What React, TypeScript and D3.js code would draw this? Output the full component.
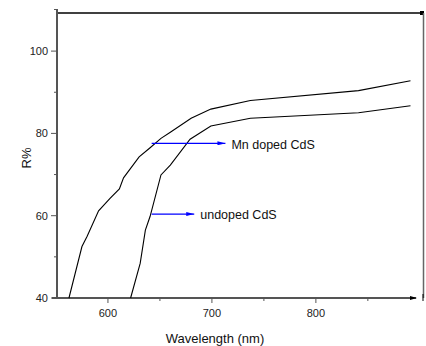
import React from "react";
import * as d3 from "d3";

const mnWavelength = [562.5, 575, 580, 591, 602, 611, 615, 630, 640, 651, 660, 680, 699, 737, 841, 891];
const mnR = [40, 52.5, 55, 61.2, 64.2, 66.5, 69.2, 74.3, 76.4, 78.8, 80.3, 83.7, 85.9, 88.0, 90.4, 92.8];
const unWavelength = [621.8, 631, 636, 640.5, 651, 660, 679, 699, 737, 841, 891];
const unR = [40, 48.4, 56.5, 59.8, 69.9, 72.3, 78.6, 81.8, 83.7, 85.0, 86.7];
const xMajor = [600, 700, 800];
const xMinor = [650, 750, 850];
const yMajor = [40, 60, 80, 100];
const yMinor = [50, 70, 90];
const labels = ["Mn doped CdS", "undoped CdS"];
const labelAnchors = [
  { w: 643, r: 77.6, endW: 713 },
  { w: 643, r: 60.4, endW: 683 },
];

export default function App() {
  const W = 426, H = 346;
  const L = 57, R = 424, T = 13, B = 298;
  const x = d3.scaleLinear().domain([551, 904]).range([L, R]);
  const yy = d3.scaleLinear().domain([40, 100]).range([B, B - 60 * 4.115]);
  const line = d3.line<[number, number]>().x(d => x(d[0])).y(d => yy(d[1]));
  const mnPts = mnWavelength.map((w, i) => [w, mnR[i]] as [number, number]);
  const unPts = unWavelength.map((w, i) => [w, unR[i]] as [number, number]);
  const font = "Liberation Sans, Arial, sans-serif";
  return (
    <svg width={W} height={H} style={{ position: "absolute", left: 0, top: 0 }} fontFamily={font}>
      <defs>
        <marker id="ab" viewBox="0 0 10 10" refX="10" refY="5" markerWidth="8" markerHeight="4" orient="auto" markerUnits="userSpaceOnUse" preserveAspectRatio="none">
          <path d="M0,0 L10,5 L0,10 z" fill="#0000ff" />
        </marker>
      </defs>
      <rect width={W} height={H} fill="#fff" />
      {/* frame */}
      <line x1={L} y1={T} x2={R - 2} y2={T} stroke="#000" strokeWidth={1.3} />
      <rect x={R - 4} y={T - 2} width={4} height={4} fill="#000" />
      <line x1={R - 0.5} y1={T} x2={R - 0.5} y2={B} stroke="#666" strokeWidth={1.5} />
      <line x1={L} y1={9} x2={L} y2={B + 1} stroke="#555" strokeWidth={2} />
      <line x1={54} y1={9.5} x2={L} y2={9.5} stroke="#555" strokeWidth={1} />
      <line x1={L - 5} y1={B} x2={R - 8} y2={B} stroke="#555" strokeWidth={2} />
      <path d={`M${R - 14},${B - 2} L${R - 7},${B} L${R - 14},${B + 2} z`} fill="#000" />
      <line x1={R - 1} y1={B - 4} x2={R - 1} y2={B + 3} stroke="#000" strokeWidth={1} />
      {/* y ticks */}
      {yMajor.map(v => (
        <g key={v}>
          <line x1={L - 6} x2={L} y1={yy(v)} y2={yy(v)} stroke="#555" strokeWidth={1} />
          <text x={48} y={yy(v)} dy="0.35em" textAnchor="end" fontSize={11} fill="#222">{v}</text>
        </g>
      ))}
      {yMinor.map(v => (
        <line key={v} x1={L - 3} x2={L} y1={yy(v)} y2={yy(v)} stroke="#555" strokeWidth={1} />
      ))}
      {/* x ticks */}
      {xMajor.map(v => (
        <g key={v}>
          <line x1={x(v)} x2={x(v)} y1={B} y2={B + 5} stroke="#555" strokeWidth={1} />
          <text x={x(v)} y={313} dy="0.35em" textAnchor="middle" fontSize={11} fill="#222">{v}</text>
        </g>
      ))}
      {xMinor.map(v => (
        <line key={v} x1={x(v)} x2={x(v)} y1={B} y2={B + 3} stroke="#555" strokeWidth={1} />
      ))}
      {/* curves */}
      <path d={line(mnPts) ?? ""} fill="none" stroke="#000" strokeWidth={1.1} />
      <path d={line(unPts) ?? ""} fill="none" stroke="#000" strokeWidth={1.1} />
      {/* annotations */}
      {labelAnchors.map((a, i) => (
        <g key={i}>
          <line x1={x(a.w) - 1} y1={yy(a.r)} x2={x(a.endW)} y2={yy(a.r)} stroke="#0000ff" strokeWidth={1.2} markerEnd="url(#ab)" />
          <text x={x(a.endW) + 6} y={yy(a.r) + 1} dy="0.35em" fontSize={12.5} fill="#111">{labels[i]}</text>
        </g>
      ))}
      {/* axis titles */}
      <text x={215} y={338} dy="0.35em" textAnchor="middle" fontSize={13} fill="#111">Wavelength (nm)</text>
      <text transform={`translate(26,158) rotate(-90)`} textAnchor="middle" dy="0.35em" fontSize={13} fill="#111">R%</text>
    </svg>
  );
}
